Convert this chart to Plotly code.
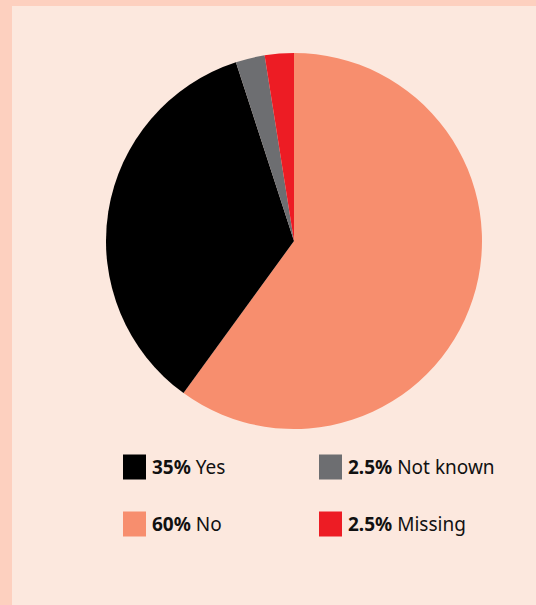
import plotly.graph_objects as go

labels = ["No", "Yes", "Not known", "Missing"]
values = [60, 35, 2.5, 2.5]
pct_text = ["60%", "35%", "2.5%", "2.5%"]
colors = ["#F78E6E", "#000000", "#6D6E71", "#ED1C24"]

# legend layout order (row-major, 2 columns)
legend_order = ["Yes", "Not known", "No", "Missing"]

W, H = 536, 605
fig = go.Figure()
fig.add_trace(go.Pie(
    labels=labels, values=values, sort=False, direction="clockwise", rotation=0,
    marker=dict(colors=colors, line=dict(width=0)),
    textinfo="none", hoverinfo="label+percent", showlegend=False,
    domain=dict(x=[(294 - 188) / W, (294 + 188) / W], y=[1 - 429 / H, 1 - 53 / H]),
))

shapes = [dict(type="rect", xref="paper", yref="paper", x0=12 / W, x1=1, y0=0, y1=1 - 6 / H,
               fillcolor="#FCE8DE", line=dict(width=0), layer="below")]
annotations = []
col_x = [123, 319]
row_y = [467, 524]
for i, name in enumerate(legend_order):
    k = labels.index(name)
    cx = col_x[i % 2]
    cy = row_y[i // 2]
    shapes.append(dict(type="rect", xref="paper", yref="paper",
                       x0=cx / W, x1=(cx + 23) / W, y0=1 - (cy + 12.5) / H, y1=1 - (cy - 12.5) / H,
                       fillcolor=colors[k], line=dict(width=0), layer="above"))
    annotations.append(dict(xref="paper", yref="paper", x=(cx + 27) / W, y=1 - cy / H,
                            xanchor="left", yanchor="middle", showarrow=False,
                            text=f"<b>{pct_text[k]}</b> {name}",
                            font=dict(family="Noto Sans", size=19, color="#111111")))

fig.update_layout(width=W, height=H, margin=dict(l=0, r=0, t=0, b=0),
                  paper_bgcolor="#FDD0BF", shapes=shapes, annotations=annotations)
fig.write_html("out.html", config={"displayModeBar": False},
               post_script="document.body.style.margin='0';document.body.style.padding='0';")
